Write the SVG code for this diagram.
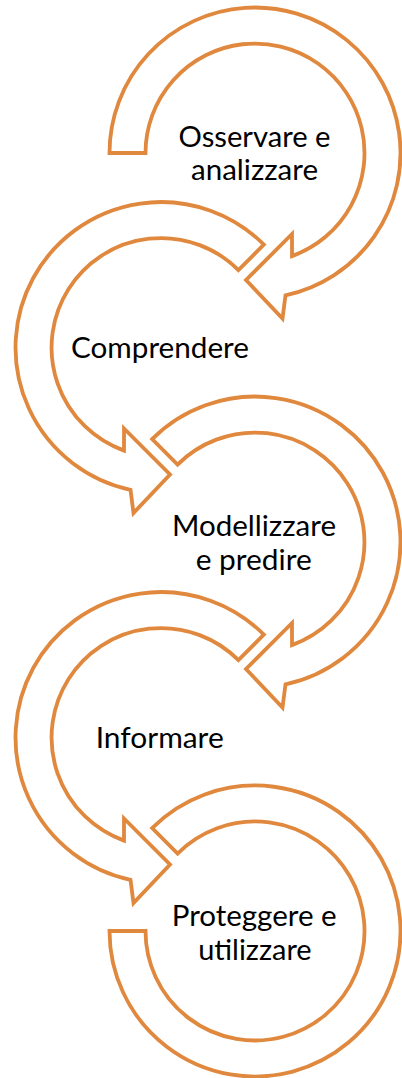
<svg xmlns="http://www.w3.org/2000/svg" width="402" height="1078" viewBox="0 0 402 1078">
  <defs>
    <style>
      .arc { fill: #ffffff; stroke: #E0883D; stroke-width: 3.8; stroke-linejoin: miter; stroke-miterlimit: 10; }
      .lbl { font-family: Lato, "Open Sans", "Liberation Sans", sans-serif; font-size: 29px; fill: #000000; text-anchor: middle; }
    </style>
    <!-- clockwise ring starting at the left, ending in an arrowhead at the bottom -->
    <path id="arrowFromLeft" d="M -145.5 0 A 145.5 145.5 0 1 1 30.5 142.3 L 27.5 165.5 L -9 127 L 37 81 L 37 103.1 A 109.5 109.5 0 1 0 -109.5 0 Z"/>
    <!-- clockwise ring starting at the upper left, ending in an arrowhead at the bottom -->
    <path id="arrowFromUpperLeft" d="M -102.88 -102.88 A 145.5 145.5 0 1 1 30.5 142.3 L 27.5 165.5 L -9 127 L 37 81 L 37 103.1 A 109.5 109.5 0 1 0 -77.43 -77.43 Z"/>
    <!-- closing ring: upper left round to the left, flat ends -->
    <path id="ringEnd" d="M -102.88 -102.88 A 145.5 145.5 0 1 1 -145.5 0 L -109.5 0 A 109.5 109.5 0 1 0 -77.43 -77.43 Z"/>
  </defs>

  <g id="step1">
    <use href="#arrowFromLeft" class="arc" transform="translate(255,153)"/>
    <text class="lbl" x="254.5" y="146.5" textLength="152" lengthAdjust="spacingAndGlyphs">Osservare e</text>
    <text class="lbl" x="254.5" y="180" textLength="127" lengthAdjust="spacingAndGlyphs">analizzare</text>
  </g>

  <g id="step2">
    <use href="#arrowFromUpperLeft" class="arc" transform="translate(161,347.5) scale(-1,1)"/>
    <text class="lbl" x="160" y="358.3" textLength="178" lengthAdjust="spacingAndGlyphs">Comprendere</text>
  </g>

  <g id="step3">
    <use href="#arrowFromUpperLeft" class="arc" transform="translate(255,542)"/>
    <text class="lbl" x="254" y="536" textLength="164" lengthAdjust="spacingAndGlyphs">Modellizzare</text>
    <text class="lbl" x="253.7" y="570" textLength="116" lengthAdjust="spacingAndGlyphs">e predire</text>
  </g>

  <g id="step4">
    <use href="#arrowFromUpperLeft" class="arc" transform="translate(161,737.5) scale(-1,1)"/>
    <text class="lbl" x="159.7" y="748.3" textLength="128" lengthAdjust="spacingAndGlyphs">Informare</text>
  </g>

  <g id="step5">
    <use href="#ringEnd" class="arc" transform="translate(255,931)"/>
    <text class="lbl" x="254.2" y="925.7" textLength="165" lengthAdjust="spacingAndGlyphs">Proteggere e</text>
    <text class="lbl" x="254.9" y="960" textLength="113.5" lengthAdjust="spacingAndGlyphs">utilizzare</text>
  </g>

  <g id="connectors"/>
</svg>
